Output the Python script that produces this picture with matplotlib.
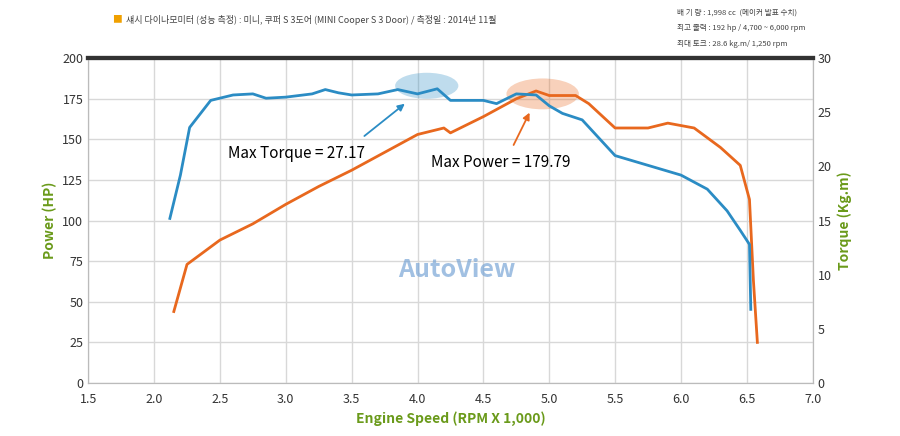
import numpy as np
import matplotlib.pyplot as plt
from matplotlib.patches import Ellipse

plt.rcParams['font.family'] = ['Noto Sans CJK KR', 'DejaVu Sans']

# Torque (kg.m), blue
torque_rpm = [2.12, 2.2, 2.27, 2.43, 2.6, 2.75, 2.85, 3.0, 3.2, 3.3, 3.4, 3.5, 3.7, 3.85,
              4.0, 4.15, 4.25, 4.5, 4.6, 4.75, 4.9, 5.0, 5.1, 5.25, 5.5, 5.75, 6.0, 6.2,
              6.35, 6.45, 6.52, 6.53]
torque_kgm = [15.2, 19.2, 23.6, 26.1, 26.6, 26.7, 26.3, 26.4, 26.7, 27.1, 26.8, 26.6, 26.7, 27.1,
              26.7, 27.17, 26.1, 26.1, 25.8, 26.7, 26.6, 25.6, 24.9, 24.3, 21.0, 20.1, 19.2, 17.9,
              15.9, 14.1, 12.8, 6.8]

# Power (HP), orange
power_rpm = [2.15, 2.25, 2.35, 2.5, 2.75, 3.0, 3.25, 3.5, 3.75, 4.0, 4.2, 4.25, 4.5, 4.75,
             4.9, 5.0, 5.2, 5.3, 5.5, 5.75, 5.9, 6.1, 6.3, 6.45, 6.52, 6.55, 6.58]
power_hp = [44, 73, 79, 88, 98, 110, 121, 131, 142, 153, 157, 154, 164, 175,
            179.79, 177, 177, 172, 157, 157, 160, 157, 145, 134, 113, 63, 25]

blue = '#2b8cc4'
orange = '#e8681e'
green = '#6a9a1a'

fig = plt.figure(figsize=(9, 4.36), dpi=100)
ax = fig.add_axes([0.098, 0.1216, 0.805, 0.745])
ax2 = ax.twinx()

ax.plot(power_rpm, power_hp, color=orange, lw=2, zorder=3)
ax2.plot(torque_rpm, torque_kgm, color=blue, lw=2, zorder=3)

ax.set_xlim(1.5, 7.0)
ax.set_ylim(0, 200)
ax2.set_ylim(0, 30)
ax.set_xticks(np.arange(1.5, 7.01, 0.5))
ax.set_yticks(np.arange(0, 201, 25))
ax2.set_yticks(np.arange(0, 31, 5))
ax.grid(True, color='#d8d8d8', lw=1)
ax.set_axisbelow(True)
for a in (ax, ax2):
    a.tick_params(labelsize=9, length=0, labelcolor='#333333')
    for s in a.spines.values():
        s.set_color('#bbbbbb')
    a.spines['top'].set_color('#333333')
    a.spines['top'].set_linewidth(3)
ax.tick_params(axis='x', pad=7)

ax.set_xlabel('Engine Speed (RPM X 1,000)', color=green, fontsize=10, fontweight='bold')
ax.set_ylabel('Power (HP)', color=green, fontsize=10, fontweight='bold')
ax2.set_ylabel('Torque (Kg.m)', color=green, fontsize=10, fontweight='bold')

ax.add_patch(Ellipse((4.07, 183), 0.48, 16, color=blue, alpha=0.3, lw=0, zorder=2))
ax.add_patch(Ellipse((4.95, 178), 0.55, 19, color=orange, alpha=0.3, lw=0, zorder=2))
ax.annotate('', xy=(3.92, 173), xytext=(3.58, 151),
            arrowprops=dict(arrowstyle='-|>', color=blue, lw=1.3))
ax.annotate('', xy=(4.86, 168), xytext=(4.72, 145),
            arrowprops=dict(arrowstyle='-|>', color=orange, lw=1.3))
ax.text(2.56, 141, 'Max Torque = 27.17', fontsize=11, va='center')
ax.text(4.1, 136, 'Max Power = 179.79', fontsize=11, va='center')
ax.text(4.3, 65, 'AutoView', fontsize=18, fontweight='bold', style='italic',
        color='#7aa6d6', alpha=0.7, ha='center')

fig.text(0.125, 0.955, '■', color='#f0a000', fontsize=7, va='center')
fig.text(0.14, 0.955, '섀시 다이나모미터 (성능 측정) : 미니, 쿠퍼 S 3도어 (MINI Cooper S 3 Door) / 측정일 : 2014년 11월',
         fontsize=6.5, color='#444444', va='center')
fig.text(0.752, 0.97, '배 기 량 : 1,998 cc  (메이커 발표 수치)', fontsize=5.5, color='#444444', va='center')
fig.text(0.752, 0.935, '최고 출력 : 192 hp / 4,700 ~ 6,000 rpm', fontsize=5.5, color='#444444', va='center')
fig.text(0.752, 0.90, '최대 토크 : 28.6 kg.m/ 1,250 rpm', fontsize=5.5, color='#444444', va='center')

fig.savefig('out.png')
